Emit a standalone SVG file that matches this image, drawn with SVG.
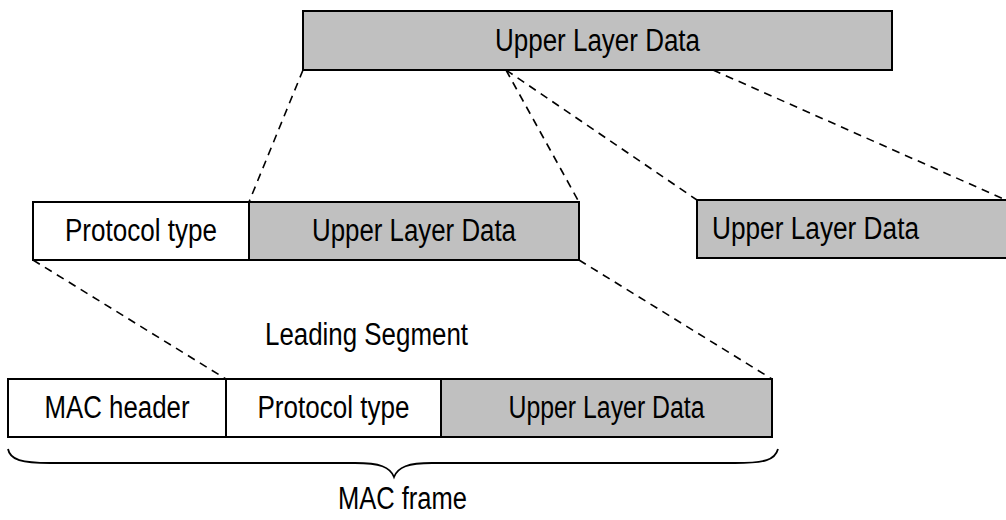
<svg xmlns="http://www.w3.org/2000/svg" width="1006" height="520" viewBox="0 0 1006 520">
<style>
.box{stroke:#000;stroke-width:2;}
.g{fill:#c0c0c0;}
.w{fill:#fff;}
.t{font-family:"Liberation Sans",Arial,sans-serif;font-size:31px;fill:#000;text-anchor:middle;}
.d{stroke:#000;stroke-width:1.6;stroke-dasharray:8 6;fill:none;}
</style>
<rect width="1006" height="520" fill="#fff"/>
<g id="connectors">
<line class="d" x1="303" y1="70" x2="249" y2="202"/>
<line class="d" x1="506" y1="70" x2="579" y2="202"/>
<line class="d" x1="506" y1="70" x2="697" y2="200"/>
<line class="d" x1="713" y1="70" x2="1006" y2="200"/>
<line class="d" x1="33" y1="260" x2="226" y2="379"/>
<line class="d" x1="579" y1="260" x2="772" y2="379"/>
</g>
<g id="top-data">
<rect class="box g" x="303" y="11" width="589" height="59"/>
<text class="t" x="597.5" y="51" textLength="205" lengthAdjust="spacingAndGlyphs">Upper Layer Data</text>
</g>
<g id="mid-protocol">
<rect class="box w" x="33" y="202" width="216" height="58"/>
<text class="t" x="141" y="241" textLength="152" lengthAdjust="spacingAndGlyphs">Protocol type</text>
</g>
<g id="mid-data">
<rect class="box g" x="249" y="202" width="330" height="58"/>
<text class="t" x="414" y="241" textLength="204" lengthAdjust="spacingAndGlyphs">Upper Layer Data</text>
</g>
<g id="right-data">
<rect class="box g" x="697" y="200" width="320" height="58"/>
<text class="t" x="712" y="239" style="text-anchor:start" textLength="207" lengthAdjust="spacingAndGlyphs">Upper Layer Data</text>
</g>
<g id="leading-label">
<text class="t" x="366.5" y="345" textLength="203" lengthAdjust="spacingAndGlyphs">Leading Segment</text>
</g>
<g id="mac-header">
<rect class="box w" x="8" y="379" width="218" height="58"/>
<text class="t" x="117" y="418" textLength="145" lengthAdjust="spacingAndGlyphs">MAC header</text>
</g>
<g id="bot-protocol">
<rect class="box w" x="226" y="379" width="215" height="58"/>
<text class="t" x="333.5" y="418" textLength="152" lengthAdjust="spacingAndGlyphs">Protocol type</text>
</g>
<g id="bot-data">
<rect class="box g" x="441" y="379" width="331" height="58"/>
<text class="t" x="606.5" y="418" textLength="196" lengthAdjust="spacingAndGlyphs">Upper Layer Data</text>
</g>
<g id="mac-frame">
<path d="M8,449 C10,460 22,463 50,463 L355,463 C380,463 390,467 394,477 C398,467 408,463 432,463 L735,463 C765,463 775,460 778,449" fill="none" stroke="#000" stroke-width="1.8"/>
<text class="t" x="402.5" y="509" textLength="129" lengthAdjust="spacingAndGlyphs">MAC frame</text>
</g>
</svg>
